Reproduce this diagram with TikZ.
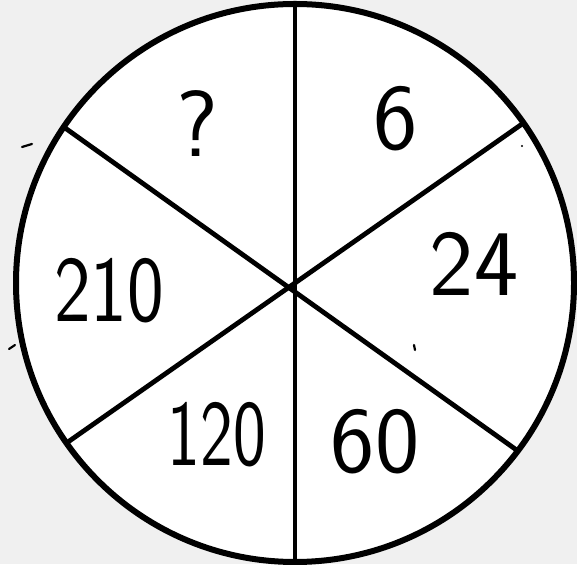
\documentclass[tikz,border=0pt]{standalone}
\usetikzlibrary{positioning}
\definecolor{paper}{HTML}{F0F0F0}

\begin{document}
\begin{tikzpicture}[
  x=1pt, y=1pt,
  rim/.style={draw=black, fill=white, line width=6pt},
  spoke/.style={draw=black, line width=4.8pt},
  num/.style={font=\sffamily\fontsize{94}{94}\selectfont, inner sep=0pt},
  narrow/.style={num, transform shape, xscale=0.74},
  stray/.style={draw=black, line width=2.2pt, line cap=round}
]

%% ── canvas ──────────────────────────────────────────────────────────────
\fill[paper] (0,0) rectangle (577,564);
\useasboundingbox (0,0) rectangle (577,564);

%% ── wheel ───────────────────────────────────────────────────────────────
\coordinate (c) at (295,281);
\path[rim] (c) circle (279pt);

\path (c) ++(90:279pt)  coordinate (top);
\path (c) ++(270:279pt) coordinate (bot);
\path (c) ++(146:279pt) coordinate (ul);
\path (c) ++(35:279pt)  coordinate (ur);
\path (c) ++(215:279pt) coordinate (ll);
\path (c) ++(323:279pt) coordinate (lr);

\draw[spoke] (top) -- (bot);
\draw[spoke] (ul) -- (lr);
\draw[spoke] (ur) -- (ll);

%% ── numbers ─────────────────────────────────────────────────────────────
\node[num]    (q)   at (197,440) {?};
\node[num]    (six) at (396,445) {6};
\node[num]    (tf)  at (474,300) {24};
\node[narrow, xscale=1.12] (two) at (109,273) {210};
\node[narrow] (ot)  at (217,129) {120};
\node[num]    (sz)  at (375,122) {60};

%% ── stray pen marks ─────────────────────────────────────────────────────
\draw[stray] (22,417) -- (32,420);
\draw[stray] (9,215) -- (15,219);
\draw[stray] (415,214) -- (414,219);
\fill (522,418) circle (1.2pt);

\end{tikzpicture}
\end{document}
